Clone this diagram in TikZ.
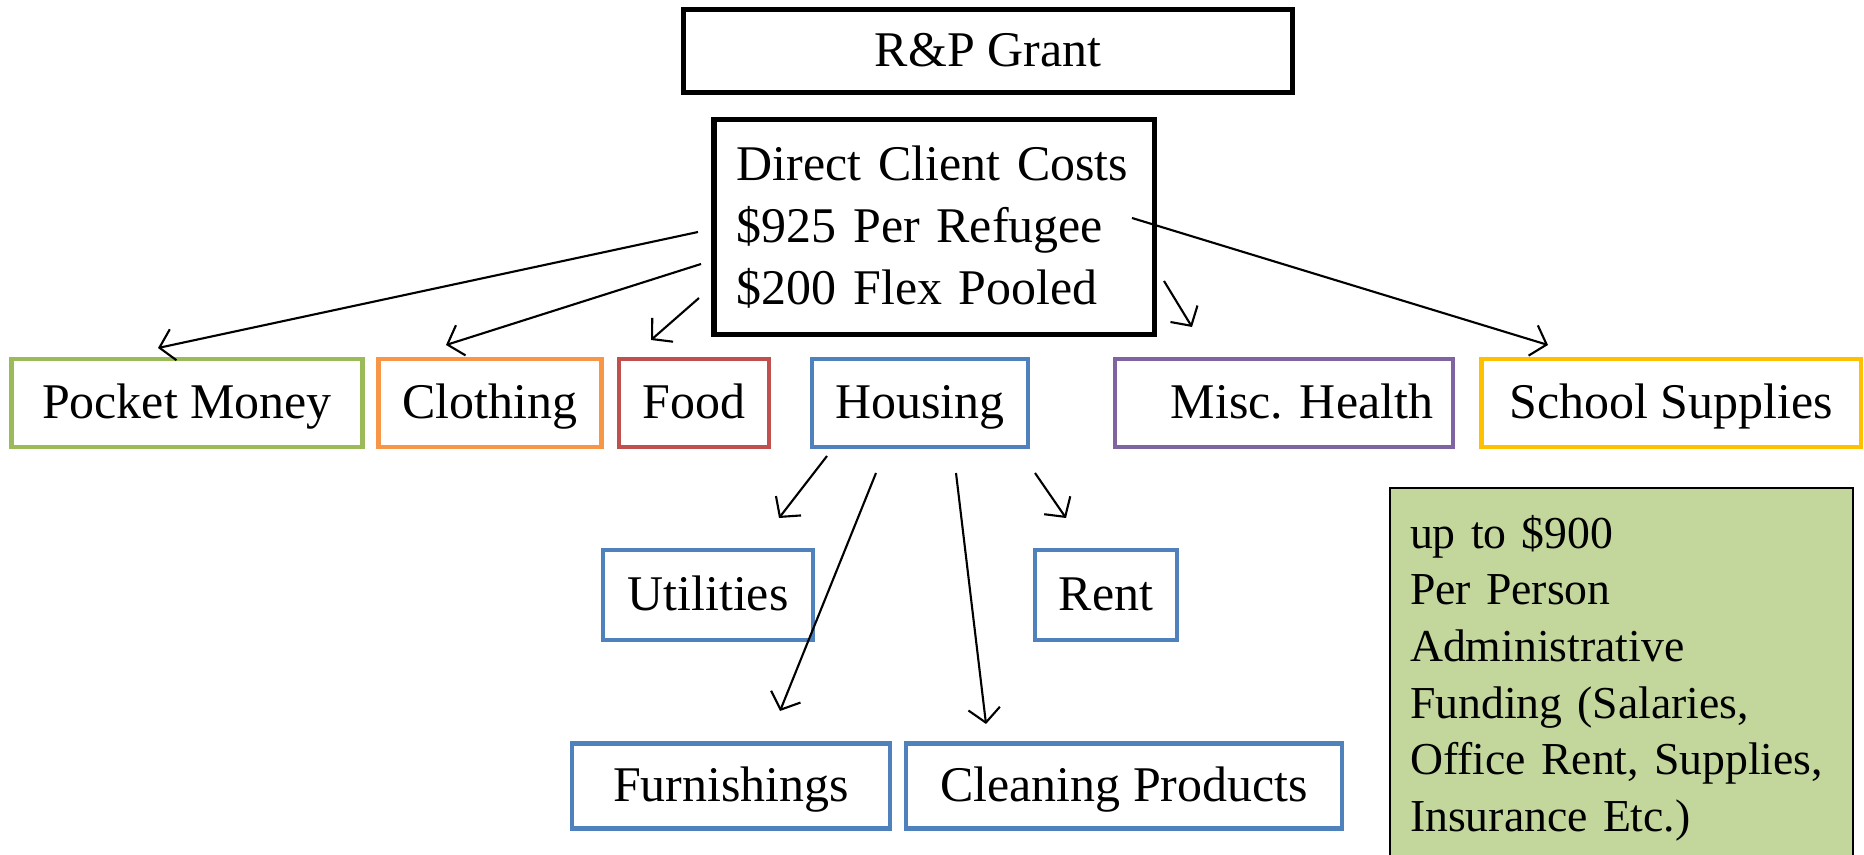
\documentclass[tikz,border=0pt]{standalone}
\usepackage{fontspec}
\setmainfont{Liberation Serif}
\usetikzlibrary{arrows.meta,positioning}
\definecolor{pmgreen}{HTML}{9BBB59}
\definecolor{clorange}{HTML}{F79646}
\definecolor{fdred}{HTML}{C0504D}
\definecolor{hsblue}{HTML}{4F81BD}
\definecolor{mhpurple}{HTML}{8064A2}
\definecolor{ssgold}{HTML}{FFC000}
\definecolor{adfill}{HTML}{C3D69B}

\begin{document}
\begin{tikzpicture}[x=0.01cm, y=-0.01cm,
 box/.style={draw, line width=1.2pt, minimum height=0.88cm, inner sep=2pt, font=\fontsize{14.2}{17.6}\selectfont},
 cat/.style={box, text height=0.42cm, text depth=0.12cm},
 blk/.style={box, draw=black, line width=1.5pt},
 hbox/.style={cat, draw=hsblue},
 arr/.style={-{Straight Barb[length=4pt,width=9pt]}, line width=0.6pt}]
\clip (0,0) rectangle (1864,855);
% top
\node[blk, text height=0.42cm, text depth=0.12cm, minimum width=6.08cm, minimum height=0.83cm] (rp) at (988,51) {R\&P Grant};
\node[blk, minimum height=2.15cm, text width=3.94cm, inner xsep=0.23cm, align=left] (dcc) at (934,227)
 {Direct Client Costs\\\$925 Per Refugee\\\$200 Flex Pooled};
% categories
\node[cat, draw=pmgreen, minimum width=3.51cm] (pm) at (187,403) {Pocket Money};
\node[cat, draw=clorange, minimum width=2.23cm] (cl) at (490,403) {Clothing};
\node[cat, draw=fdred, minimum width=1.50cm] (fd) at (694,403) {Food};
\node[hbox, minimum width=2.16cm] (hs) at (920,403) {Housing};
\node[cat, draw=mhpurple, text width=2.98cm, inner xsep=0.2cm, align=right] (mh) at (1284,403) {Misc.\ Health};
\node[cat, draw=ssgold, minimum width=3.79cm] (ss) at (1671,403) {School Supplies};
% housing
\node[hbox, minimum width=2.10cm, minimum height=0.90cm] (ut) at (708,595) {Utilities};
\node[hbox, minimum width=1.42cm, minimum height=0.90cm] (rt) at (1106,595) {Rent};
\node[hbox, minimum width=3.18cm, minimum height=0.85cm] (fu) at (731,786) {Furnishings};
\node[hbox, minimum width=4.35cm, minimum height=0.85cm] (cp) at (1124,786) {Cleaning Products};
% admin
\node[draw, line width=0.6pt, fill=adfill, anchor=north west, text depth=3.4cm, text width=4.23cm,
 inner xsep=0.2cm, inner ysep=0.27cm, align=left, font=\fontsize{13}{16.1}\selectfont] (ad) at (1389,487)
 {up to \$900\\Per Person\\Administrative\\Funding (Salaries,\\Office Rent, Supplies,\\Insurance Etc.)};
% arrow ends
\coordinate (o1) at (698,232); \coordinate (i1) at (158,348);
\coordinate (o2) at (701,264); \coordinate (i2) at (446,345);
\coordinate (o3) at (699,298); \coordinate (i3) at (651,340);
\coordinate (o4) at (1164,281); \coordinate (i4) at (1192,327);
\coordinate (o5) at (1132,218); \coordinate (i5) at (1548,345);
\coordinate (h1) at (827,456); \coordinate (j1) at (779,518);
\coordinate (h2) at (876,473); \coordinate (j2) at (780,711);
\coordinate (h3) at (956,473); \coordinate (j3) at (986,724);
\coordinate (h4) at (1035,473); \coordinate (j4) at (1066,518);
\foreach \a/\b in {o1/i1,o2/i2,o3/i3,o4/i4,o5/i5,h1/j1,h2/j2,h3/j3,h4/j4}
 {\draw[arr] (\a) -- (\b);}
\end{tikzpicture}
\end{document}
